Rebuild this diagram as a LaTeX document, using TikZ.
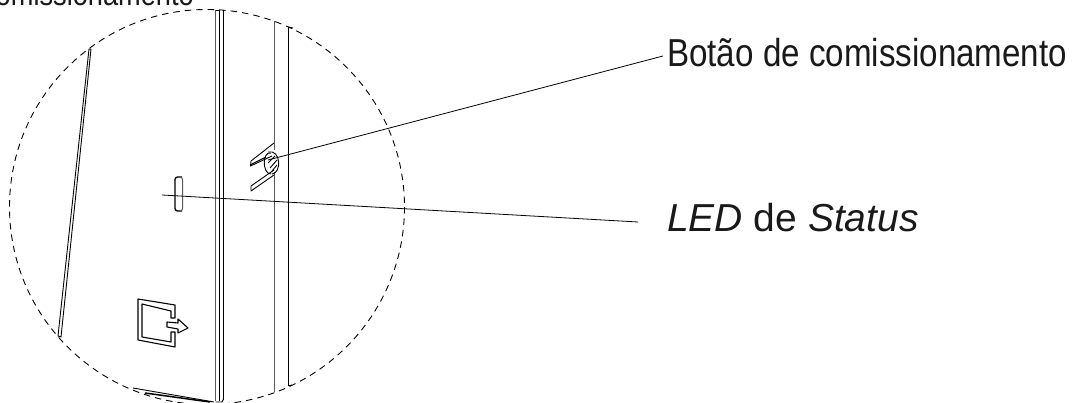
\documentclass[tikz,border=0pt]{standalone}
\usepackage{fontspec}
\setmainfont{Liberation Sans}
\newfontfamily\condfont[FakeStretch=0.85]{Liberation Sans}
\tikzset{
  px/.style={x=1pt,y=-1pt},
  thinl/.style={line width=0.9pt,black},
  greyl/.style={line width=1pt,black!65},
  thickl/.style={line width=1.5pt,black},
  iconl/.style={line width=1.1pt,black},
  lead/.style={line width=0.8pt,black},
  lbl/.style={inner sep=0pt,text=black!90},
  ring/.style={line width=0.9pt,dash pattern=on 6.5pt off 5pt}
}
\begin{document}
\begin{tikzpicture}[px,line join=round]
\useasboundingbox (0,0) rectangle (1078,403);
\begin{scope}
\clip (0,0) rectangle (1078,403);
\node[lbl,anchor=base east,font=\fontsize{32}{32}\selectfont\condfont] (cut) at (194,6) {comissionamento};
\draw[ring] (207,207) circle (197.5);
% left edge
\draw[thinl] (89,49) -- (58,336) -- (61,337) -- (91,49) -- cycle;
% main panel edges
\draw[greyl] (215.5,10) -- (215.5,401);
\draw[thinl] (219,10) -- (219,401);
\draw[thickl] (223.5,10) -- (223.5,400);
\draw[thinl] (215.5,10) -- (219,10);
\draw[greyl] (274,21) -- (274,150);
\draw[greyl] (274,172) -- (274,392);
\draw[thickl] (288.5,27) -- (288.5,386);
\draw[thinl] (288.5,27) -- (293,28);
\draw[thinl] (288.5,386) -- (292,385);
% bottom edge
\draw[thinl] (133,388) -- (214,402);
\draw[thickl] (145,393) -- (210,402);
\draw[thinl] (215.5,402) -- (222,402) -- (223.5,399);
% button
\draw[thinl] (274,143) -- (251,161) -- (250.5,166) -- (272,156);
\draw[thinl] (251,164.5) -- (266,157);
\draw[thinl] (274,170) -- (251,186) -- (251,191) -- (274,175);
\draw[thinl] (268,152) .. controls (281,149) and (282,173) .. (272,174);
\draw[thinl] (271,153) .. controls (262,151) and (262,174) .. (271,174);
\draw[thinl] (275,156) -- (268,163);
\draw[thinl] (277,160) -- (270,168);
\draw[thinl] (277,165) -- (272,171);
% LED
\draw[line width=1.4pt,rounded corners=2.5pt] (182,177) -- (175,177) -- (175,211) -- (182,211);
\draw[greyl,rounded corners=2.5pt] (179,177) -- (182.5,177) -- (182.5,211) -- (179,211);
% logout icon
\draw[iconl] (138,299) -- (175,305) -- (175,318) -- (171,318) -- (171,311) -- (142,304) -- (142,337) -- (171,342) -- (171,332) -- (175,332) -- (175,347) -- (138,340) -- cycle;
\draw[iconl] (167,322) -- (178,323) -- (178,319) -- (188,328) -- (178,333) -- (178,329) -- (167,327) -- cycle;
% anchors
\coordinate (btn) at (268,160);
\coordinate (led) at (162,195);
\node[lbl,anchor=base west,font=\fontsize{39}{39}\selectfont\condfont] (b) at (667,67) {Botão de comissionamento};
\node[lbl,anchor=base west,font=\fontsize{39}{39}\selectfont] (l) at (667,232) {\textit{LED} de \textit{Status}};
\draw[lead] (btn) -- (663,56);
\draw[lead] (led) -- (638,222);
\end{scope}
\end{tikzpicture}
\end{document}
